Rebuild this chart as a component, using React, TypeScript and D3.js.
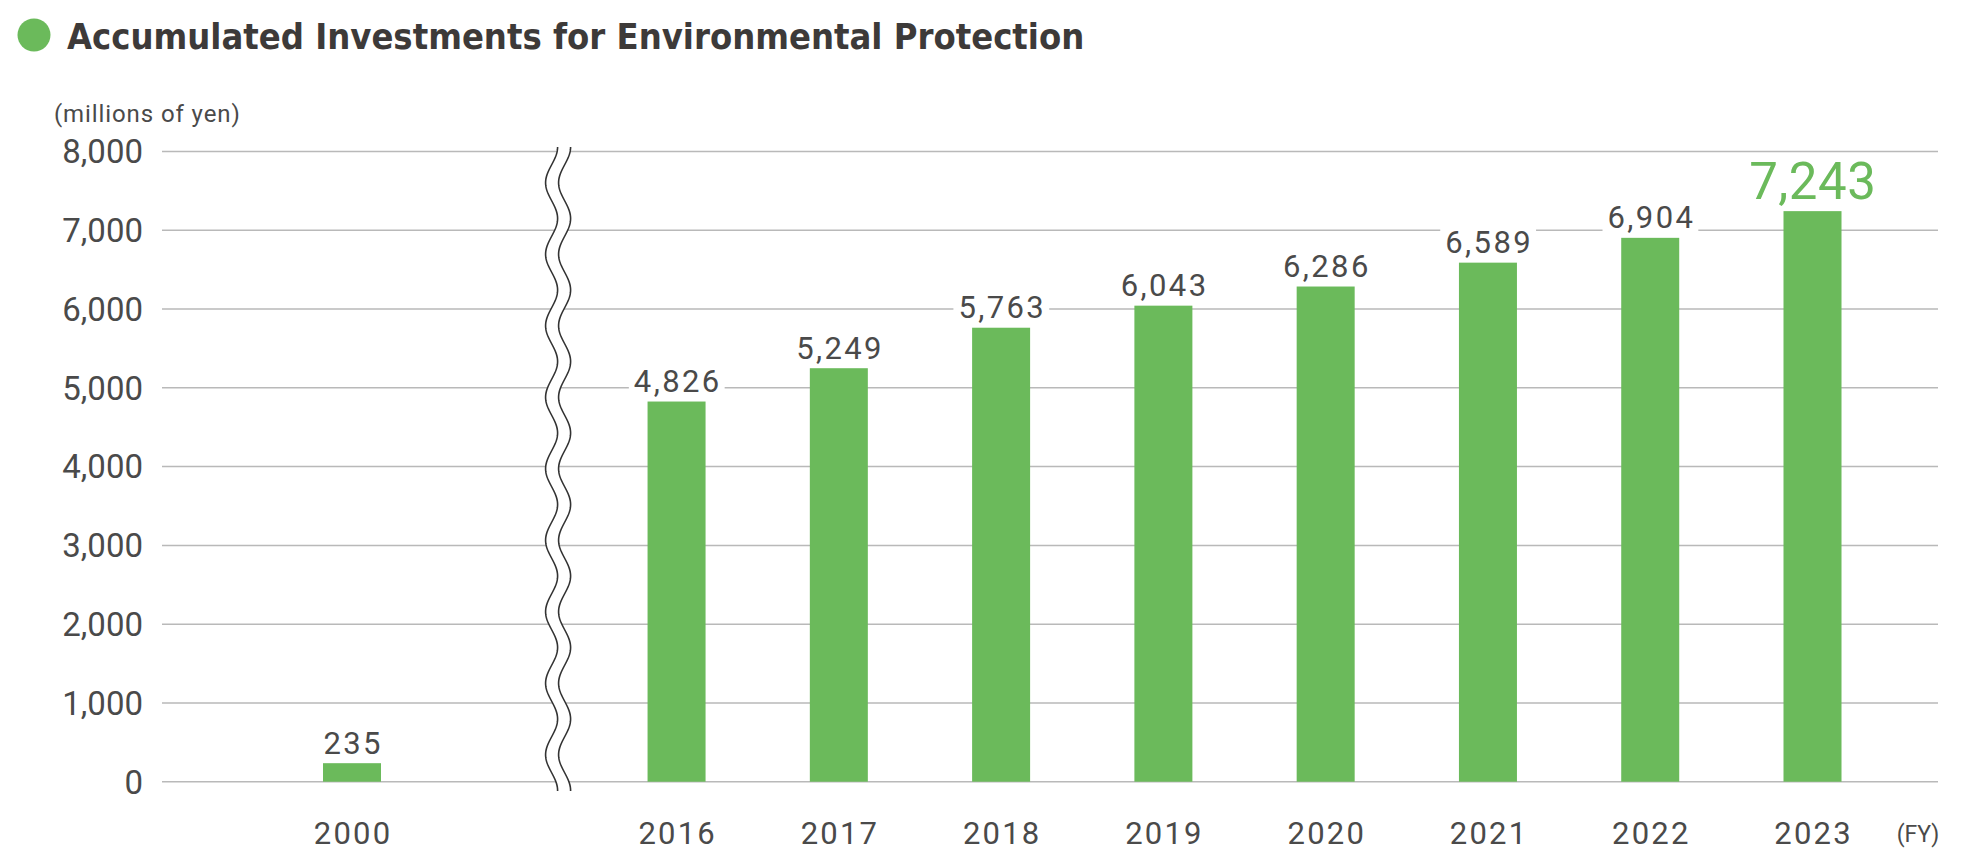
import { useEffect, useRef } from 'react'
import * as d3 from 'd3'

const CATEGORIES = ['2000', '2016', '2017', '2018', '2019', '2020', '2021', '2022', '2023']
const VALUES = [235, 4826, 5249, 5763, 6043, 6286, 6589, 6904, 7243]
const Y_TICKS = [0, 1000, 2000, 3000, 4000, 5000, 6000, 7000, 8000]
const HIGHLIGHT = '2023'
const TITLE = 'Accumulated Investments for Environmental Protection'
const Y_UNIT = '(millions of yen)'
const X_UNIT = '(FY)'

const GREEN = '#6bba5b'
const TEXT = '#4a4a4a'
const GRID = '#b9b9b9'
const FONT = 'Roboto, "Noto Sans", sans-serif'

export default function App() {
  const svgRef = useRef<SVGSVGElement>(null)

  useEffect(() => {
    if (!svgRef.current) return
    document.body.style.margin = '0'

    const width = 1980
    const height = 857
    const plotLeft = 162
    const plotRight = 1938
    const plotTop = 151.5
    const plotBottom = 781.7

    const svg = d3.select(svgRef.current)
    svg.selectAll('*').remove()

    // slot list with a hole for the axis break between 2000 and 2016
    const slots = [CATEGORIES[0], 'break', ...CATEGORIES.slice(1)]
    const xScale = d3.scalePoint<string>().domain(slots).range([352, 1812.5])
    const step = xScale.step()
    const barWidth = 58

    const yScale = d3.scaleLinear().domain([0, 8000]).range([plotBottom, plotTop])

    // title
    svg.append('circle')
      .attr('cx', 34)
      .attr('cy', 35)
      .attr('r', 16.5)
      .attr('fill', GREEN)

    svg.append('text')
      .attr('x', 67)
      .attr('y', 49)
      .attr('font-family', '"DejaVu Sans Condensed", "Liberation Sans Narrow", Roboto, sans-serif')
      .attr('font-weight', 700)
      .attr('font-size', 36)
      .attr('fill', '#3d3a39')
      .text(TITLE)

    svg.append('text')
      .attr('x', 54)
      .attr('y', 122)
      .attr('font-family', FONT)
      .attr('font-size', 24)
      .attr('letter-spacing', 0.9)
      .attr('fill', TEXT)
      .text(Y_UNIT)

    // grid
    svg.append('g')
      .selectAll('line')
      .data(Y_TICKS)
      .join('line')
      .attr('x1', plotLeft)
      .attr('x2', plotRight)
      .attr('y1', d => yScale(d))
      .attr('y2', d => yScale(d))
      .attr('stroke', GRID)
      .attr('stroke-width', 1.5)

    // y tick labels
    svg.append('g')
      .selectAll('text')
      .data(Y_TICKS)
      .join('text')
      .attr('x', 143)
      .attr('y', d => yScale(d))
      .attr('dy', '0.36em')
      .attr('text-anchor', 'end')
      .attr('font-family', FONT)
      .attr('font-size', 33)
      .attr('fill', TEXT)
      .text(d => d3.format(',')(d))

    // axis break
    const breakX = (xScale('2016') as number) - step * 0.73
    const breakTop = 147
    const breakBottom = 791
    const period = 71.5
    const amp = 6
    const gapW = 13
    const ys = d3.range(breakTop, breakBottom + 0.5, 1)
    const wave = (off: number) => ys.map(y => [breakX + off + amp * Math.sin(((y - breakTop) / period) * 2 * Math.PI + Math.PI / 2), y] as [number, number])
    const left = wave(-gapW / 2)
    const right = wave(gapW / 2)
    const line = d3.line()
    svg.append('path')
      .attr('d', line([...left, ...right.slice().reverse()]) + 'Z')
      .attr('fill', '#fff')
    ;[left, right].forEach(pts => {
      svg.append('path')
        .attr('d', line(pts))
        .attr('fill', 'none')
        .attr('stroke', '#333')
        .attr('stroke-width', 1.6)
    })

    // bars
    svg.append('g')
      .selectAll('rect')
      .data(CATEGORIES)
      .join('rect')
      .attr('x', d => (xScale(d) as number) - barWidth / 2)
      .attr('y', (_, i) => yScale(VALUES[i]))
      .attr('width', barWidth)
      .attr('height', (_, i) => plotBottom - yScale(VALUES[i]))
      .attr('fill', GREEN)

    // value labels
    const labels = svg.append('g')
    CATEGORIES.forEach((cat, i) => {
      const hi = cat === HIGHLIGHT
      const ls = hi ? 0.5 : 2.4
      const t = labels.append('text')
        .attr('x', (xScale(cat) as number) + ls / 2)
        .attr('y', yScale(VALUES[i]) - (hi ? 12 : 9.5))
        .attr('text-anchor', 'middle')
        .attr('font-family', FONT)
        .attr('font-size', hi ? 51 : 31)
        .attr('letter-spacing', ls)
        .attr('fill', hi ? GREEN : TEXT)
        .text(d3.format(',')(VALUES[i]))
      if (!hi) {
        const bb = (t.node() as SVGTextElement).getBBox()
        labels.insert('rect', () => t.node())
          .attr('x', bb.x - 5)
          .attr('y', bb.y)
          .attr('width', bb.width + 8)
          .attr('height', bb.height)
          .attr('fill', '#fff')
      }
    })

    // x labels
    const ls = 2.2
    svg.append('g')
      .selectAll('text')
      .data(CATEGORIES)
      .join('text')
      .attr('x', d => (xScale(d) as number) + ls / 2)
      .attr('y', 844)
      .attr('text-anchor', 'middle')
      .attr('font-family', FONT)
      .attr('font-size', 31)
      .attr('letter-spacing', ls)
      .attr('fill', TEXT)
      .text(d => d)

    svg.append('text')
      .attr('x', 1918)
      .attr('y', 842)
      .attr('text-anchor', 'middle')
      .attr('font-family', FONT)
      .attr('font-size', 23)
      .attr('fill', TEXT)
      .text(X_UNIT)

    svg.attr('width', width).attr('height', height)
  }, [])

  return <svg ref={svgRef} width={1980} height={857} style={{ display: 'block' }} />
}
